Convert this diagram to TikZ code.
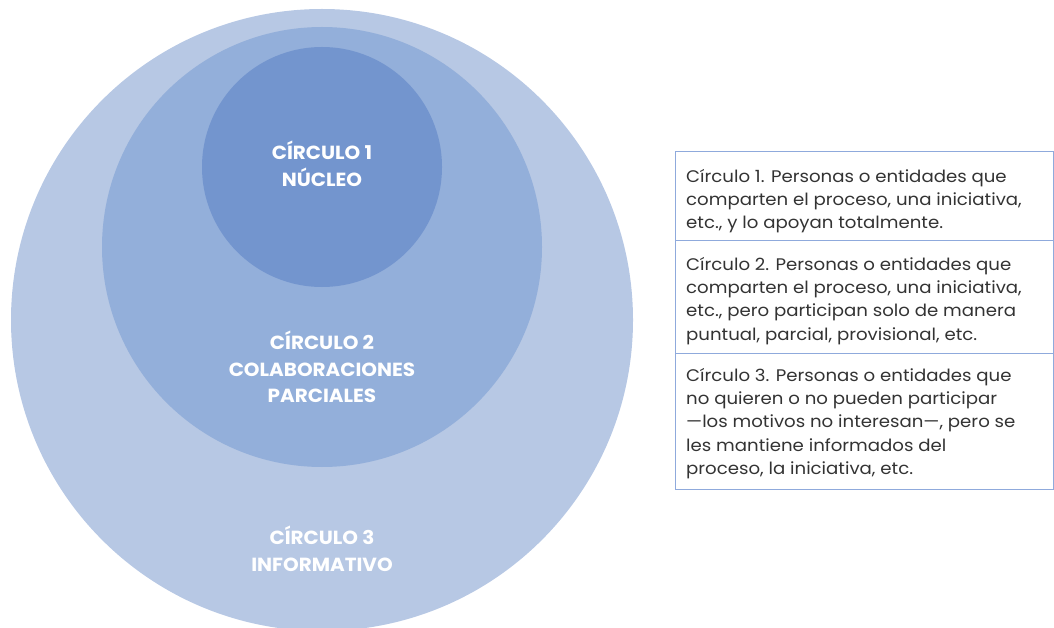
\documentclass[tikz,border=0pt]{standalone}
\usepackage{fontspec}
\setmainfont{Poppins}
\newfontfamily\widefont[FakeStretch=1.08]{Poppins}
\newfontfamily\labfont[FakeStretch=1.05]{Poppins}
\definecolor{c3}{HTML}{B7C8E4}
\definecolor{c2}{HTML}{93AFDA}
\definecolor{c1}{HTML}{7395CE}
\definecolor{boxline}{HTML}{8FAADC}
\definecolor{txt}{HTML}{333333}
\begin{document}
\begin{tikzpicture}[x=1pt,y=-1pt,
  circlabel/.style={text=white,font=\labfont\fontsize{19}{26.5}\selectfont\bfseries,align=center},
  desc/.style={anchor=north west,text=txt,font=\widefont\fontsize{16.8}{23.3}\selectfont,align=left,inner sep=0pt},
  boxframe/.style={draw=boxline,line width=1.3pt}]
\useasboundingbox (0,0) rectangle (1054,628);
\begin{scope}
\clip (0,0) rectangle (1054,628);
\fill[c3] (322,320) circle[radius=311];
\fill[c2] (322,247) circle[radius=220];
\fill[c1] (322,167) circle[radius=120];
\end{scope}
\node[circlabel] (l1) at (322,164) {CÍRCULO 1\\NÚCLEO};
\node[circlabel] (l2) at (322,367) {CÍRCULO 2\\COLABORACIONES\\PARCIALES};
\node[circlabel] (l3) at (322,549) {CÍRCULO 3\\INFORMATIVO};
\node[boxframe,minimum width=378,minimum height=89,anchor=north west,inner sep=0pt] (b1) at (675,151) {};
\node[boxframe,minimum width=378,minimum height=113,anchor=north west,inner sep=0pt] (b2) at (675,240) {};
\node[boxframe,minimum width=378,minimum height=136,anchor=north west,inner sep=0pt] (b3) at (675,353) {};
\node[desc] (t1) at (686,169) {Círculo 1. Personas o entidades que\\comparten el proceso, una iniciativa,\\etc., y lo apoyan totalmente.};
\node[desc] (t2) at (686,257) {Círculo 2. Personas o entidades que\\comparten el proceso, una iniciativa,\\etc., pero participan solo de manera\\puntual, parcial, provisional, etc.};
\node[desc] (t3) at (686,368) {Círculo 3. Personas o entidades que\\no quieren o no pueden participar\\—los motivos no interesan—, pero se\\les mantiene informados del\\proceso, la iniciativa, etc.};
\end{tikzpicture}
\end{document}
